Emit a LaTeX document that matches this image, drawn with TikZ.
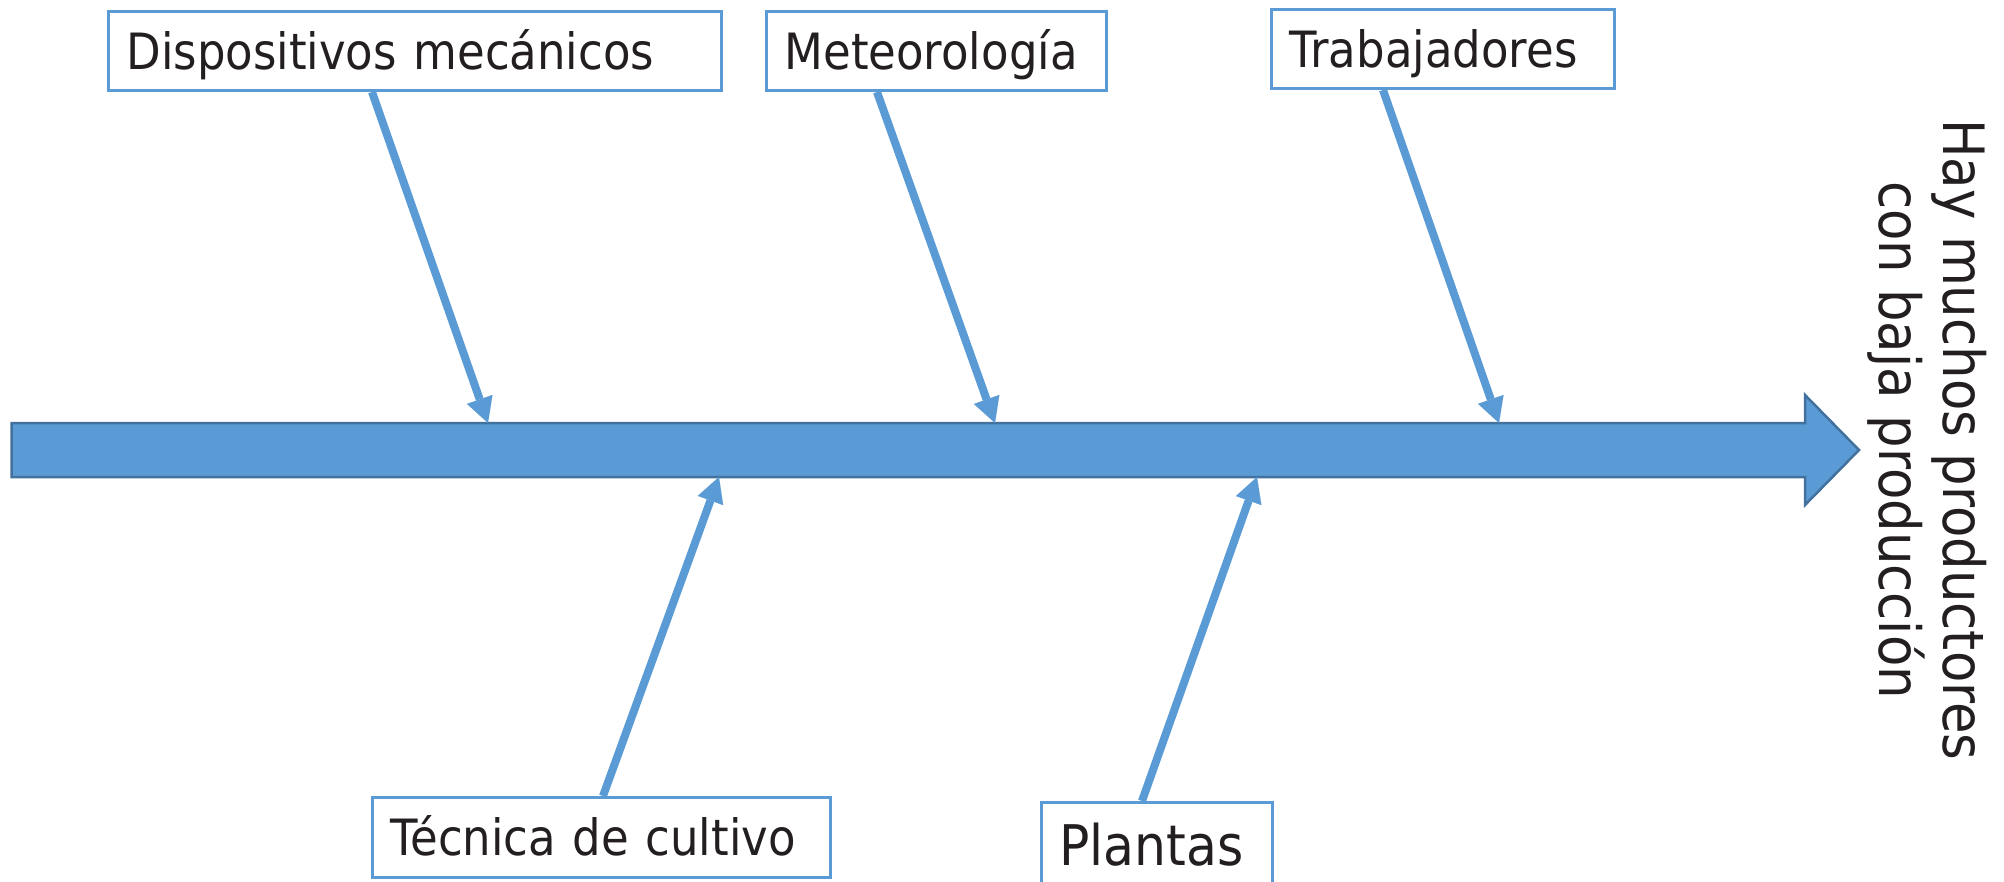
\documentclass[tikz,border=0pt]{standalone}
\usepackage{fontspec}
\setmainfont{DejaVu Sans}[FakeStretch=0.9]
\usetikzlibrary{arrows.meta}
\definecolor{bblue}{HTML}{5B9BD5}
\definecolor{dblue}{HTML}{41719C}
\definecolor{ink}{HTML}{231F20}
\begin{document}
\begin{tikzpicture}[x=1pt,y=-1pt,
  cause/.style={draw=bblue,line width=3pt,fill=white,rectangle,anchor=north west,
    inner xsep=18pt,inner ysep=0pt,align=left,text=ink,
    font=\fontsize{50}{60}\selectfont,text height=36.5pt,text depth=0pt},
  bone/.style={draw=bblue,line width=8pt,
    -{Triangle[length=25pt,width=27pt,line width=0.01pt]}},
  spine/.style={draw=dblue,fill=bblue,line width=2.5pt,line join=miter}]
\useasboundingbox (0,0) rectangle (2004,881);
% main arrow
\draw[spine] (11.5,423) -- (1805,423) -- (1805,395) -- (1859,450) -- (1805,505)
  -- (1805,477) -- (11.5,477) -- cycle;
\coordinate (e1) at (488,423);
\coordinate (e2) at (995,423);
\coordinate (e3) at (1499,423);
\coordinate (e4) at (719,477);
\coordinate (e5) at (1257,477);
% cause boxes
\node[cause,text width=577pt,minimum height=79pt] (dm) at (107,10) {Dispositivos mecánicos};
\node[cause,text width=304pt,minimum height=79pt] (me) at (765,10) {Meteorología};
\node[cause,text width=307pt,minimum height=79pt] (tr) at (1270,8) {Trabajadores};
\node[cause,text width=422pt,minimum height=80pt] (tc) at (371,796) {Técnica de cultivo};
\node[cause,text width=195pt,minimum height=85pt,font=\fontsize{56}{66}\selectfont,
  text height=40.9pt] (pl) at (1040,801) {Plantas};
% effect
\node[rotate=-90,align=center,inner sep=0pt,text=ink,
  font=\fontsize{57}{64}\selectfont] (ef) at (1927,440)
  {Hay muchos productores\\con baja producción};
% bones
\draw[bone] ([xshift=265pt]dm.south west) -- (e1);
\draw[bone] ([xshift=112pt]me.south west) -- (e2);
\draw[bone] ([xshift=113pt]tr.south west) -- (e3);
\draw[bone] ([xshift=232pt]tc.north west) -- (e4);
\draw[bone] ([xshift=102pt]pl.north west) -- (e5);
\end{tikzpicture}
\end{document}
